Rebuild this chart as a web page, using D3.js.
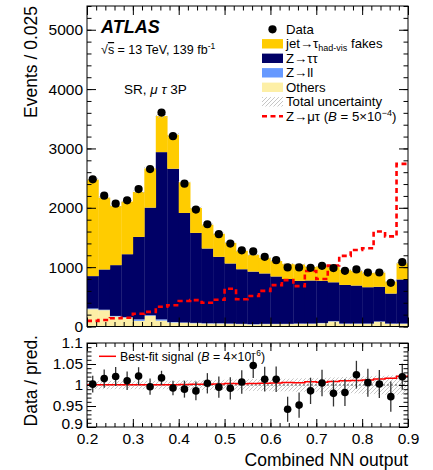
<!DOCTYPE html>
<html><head><meta charset="utf-8">
<script src="https://cdn.jsdelivr.net/npm/d3@7/dist/d3.min.js"></script>
<style>
body{margin:0;background:#fff}
text{font-family:"Liberation Sans",Arial,Helvetica,sans-serif;fill:#000}
</style>
</head><body>
<svg id="c" width="433" height="470"></svg>
<script>
// ---- data ----
const binEdges = [0.2,0.225,0.25,0.275,0.3,0.325,0.35,0.375,0.4,0.425,0.45,0.475,0.5,0.525,0.55,0.575,0.6,0.625,0.65,0.675,0.7,0.725,0.75,0.775,0.8,0.825,0.85,0.875,0.9];
const dataCounts = [2480,2205,2070,2126,2316,2652,3605,3207,2406,1970,1723,1555,1398,1284,1265,1174,1118,995,995,989,1022,985,938,961,908,910,736,1084];
const fakes  = [1626,1211,995,887,759,660,607,572,517,421,402,389,347,310,284,264,260,256,275,228,247,260,255,248,241,239,202,270];
const ztt    = [545,678,856,1060,1389,1813,2818,2582,1845,1516,1259,1119,1012,920,885,849,798,755,720,725,710,655,650,640,612,584,505,743];
const zll    = [12,8,8,8,25,10,20,8,6,6,5,5,5,5,5,5,5,5,5,5,5,5,5,5,5,5,5,5];
const others = [292,275,170,150,95,180,100,68,62,55,50,50,45,40,35,40,40,40,45,45,55,85,45,45,45,80,45,45];
const signal = [95,109,140,148,215,247,333,358,429,445,400,450,636,460,515,600,697,781,680,935,800,1028,1190,1290,1318,1600,1518,2740];
const relUnc = [0.010,0.010,0.010,0.010,0.010,0.010,0.010,0.010,0.011,0.011,0.012,0.012,0.013,0.013,0.014,0.014,0.015,0.015,0.016,0.016,0.017,0.018,0.019,0.020,0.021,0.022,0.023,0.023];
const bestFitScale = 4e-6 / 5e-4;
const yTicksMain = [0,1000,2000,3000,4000,5000];
const xTicks = [0.2,0.3,0.4,0.5,0.6,0.7,0.8,0.9];
const ratioTicks = [0.9,0.95,1,1.05,1.1];

const colors = {fakes:"#ffcc00", ztt:"#000066", zll:"#6699ff", others:"#fdefa6"};

// ---- layout ----
const L = 87, R = 408;
const mainTop = 6, mainBot = 326.5;
const ratTop = 343, ratBot = 427;
const svg = d3.select("#c");

const x = d3.scaleLinear().domain([0.2,0.9]).range([L,R]);
const y = d3.scaleLinear().domain([0,5400]).range([mainBot,mainTop]);
const yr = d3.scaleLinear().domain([0.9,1.1]).range([ratBot,ratTop]);

const defs = svg.append("defs");
defs.append("clipPath").attr("id","clipMain").append("rect")
  .attr("x",L).attr("y",mainTop).attr("width",R-L).attr("height",mainBot-mainTop);
defs.append("clipPath").attr("id","clipRat").append("rect")
  .attr("x",L).attr("y",ratTop).attr("width",R-L).attr("height",ratBot-ratTop);
const pat = defs.append("pattern").attr("id","hatch").attr("patternUnits","userSpaceOnUse")
  .attr("width",4).attr("height",4);
pat.append("path").attr("d","M-1,1 l2,-2 M0,4 l4,-4 M3,5 l2,-2")
  .attr("stroke","#b8b8b8").attr("stroke-width",0.8);

const bins = dataCounts.map((d,i)=>({
  i, lo:binEdges[i], hi:binEdges[i+1], data:d,
  fakes:fakes[i], ztt:ztt[i], zll:zll[i], others:others[i], sig:signal[i], unc:relUnc[i]
}));
bins.forEach(b=>{ b.pred = b.fakes+b.ztt+b.zll+b.others; });

// ---- main panel ----
const gMain = svg.append("g").attr("clip-path","url(#clipMain)");
const keys = ["others","zll","ztt","fakes"];
const stack = d3.stack().keys(keys)(bins);
stack.forEach(layer=>{
  gMain.append("g").selectAll("rect").data(layer).join("rect")
    .attr("x",d=>x(d.data.lo)).attr("width",d=>x(d.data.hi)-x(d.data.lo)+0.3)
    .attr("y",d=>y(d[1])).attr("height",d=>y(d[0])-y(d[1]))
    .attr("fill",colors[layer.key]);
});
// uncertainty hatch on total
gMain.append("g").selectAll("rect").data(bins).join("rect")
  .attr("x",d=>x(d.lo)).attr("width",d=>x(d.hi)-x(d.lo))
  .attr("y",d=>y(d.pred*(1+d.unc))).attr("height",d=>y(d.pred*(1-d.unc))-y(d.pred*(1+d.unc)))
  .attr("fill","url(#hatch)");
// signal step line
const sigPts = bins.map(b=>[b.lo,b.sig]).concat([[0.9,signal[signal.length-1]]]);
gMain.append("path").datum(sigPts)
  .attr("d",d3.line().x(d=>x(d[0])).y(d=>y(d[1])).curve(d3.curveStepAfter))
  .attr("fill","none").attr("stroke","#ff0000").attr("stroke-width",2.6)
  .attr("stroke-dasharray","5,3.5");
// data
const cx = d=>x((d.lo+d.hi)/2);
gMain.append("g").selectAll("line").data(bins).join("line")
  .attr("x1",cx).attr("x2",cx)
  .attr("y1",d=>y(d.data+Math.sqrt(d.data))).attr("y2",d=>y(d.data-Math.sqrt(d.data)))
  .attr("stroke","#000").attr("stroke-width",1.2);
gMain.append("g").selectAll("circle").data(bins).join("circle")
  .attr("cx",cx).attr("cy",d=>y(d.data)).attr("r",4.1).attr("fill","#000");

// ---- ratio panel ----
const gRat = svg.append("g").attr("clip-path","url(#clipRat)");
gRat.append("g").selectAll("rect").data(bins).join("rect")
  .attr("x",d=>x(d.lo)).attr("width",d=>x(d.hi)-x(d.lo)+0.3)
  .attr("y",d=>yr(1+d.unc)).attr("height",d=>yr(1-d.unc)-yr(1+d.unc))
  .attr("fill","url(#hatch)");
gRat.append("line").attr("x1",L).attr("x2",R).attr("y1",yr(1)).attr("y2",yr(1))
  .attr("stroke","#555").attr("stroke-width",1).attr("stroke-dasharray","2,2");
const bfPts = bins.map(b=>[b.lo,1+bestFitScale*b.sig/b.pred]);
bfPts.push([0.9,bfPts[bfPts.length-1][1]]);
gRat.append("path").datum(bfPts)
  .attr("d",d3.line().x(d=>x(d[0])).y(d=>yr(d[1])).curve(d3.curveStepAfter))
  .attr("fill","none").attr("stroke","#ff0000").attr("stroke-width",1.5);
gRat.append("g").selectAll("line").data(bins).join("line")
  .attr("x1",cx).attr("x2",cx)
  .attr("y1",d=>yr((d.data+Math.sqrt(d.data))/d.pred)).attr("y2",d=>yr((d.data-Math.sqrt(d.data))/d.pred))
  .attr("stroke","#333").attr("stroke-width",1.3);
gRat.append("g").selectAll("circle").data(bins).join("circle")
  .attr("cx",cx).attr("cy",d=>yr(d.data/d.pred)).attr("r",3.8).attr("fill","#000");

// ---- axes ----
function ax(g, gen){ g.call(gen); g.select(".domain").remove(); g.selectAll("line").attr("stroke","#000"); g.selectAll("text").attr("font-size",15.5).attr("font-family",'"Liberation Sans",Arial,sans-serif'); }
const xMinor = d3.range(20,91,2).map(v=>v/100);
// main panel
ax(svg.append("g").attr("transform",`translate(${L},0)`), d3.axisLeft(y).tickValues(yTicksMain).tickSize(-9).tickPadding(4).tickFormat(d3.format("d")));
ax(svg.append("g").attr("transform",`translate(${L},0)`), d3.axisLeft(y).tickValues(d3.range(0,5401,200)).tickSize(-4.5).tickFormat(""));
ax(svg.append("g").attr("transform",`translate(${R},0)`), d3.axisRight(y).tickValues(yTicksMain).tickSize(-9).tickFormat(""));
ax(svg.append("g").attr("transform",`translate(${R},0)`), d3.axisRight(y).tickValues(d3.range(0,5401,200)).tickSize(-4.5).tickFormat(""));
ax(svg.append("g").attr("transform",`translate(0,${mainBot})`), d3.axisBottom(x).tickValues(xTicks).tickSize(-9).tickFormat(""));
ax(svg.append("g").attr("transform",`translate(0,${mainBot})`), d3.axisBottom(x).tickValues(xMinor).tickSize(-4.5).tickFormat(""));
ax(svg.append("g").attr("transform",`translate(0,${mainTop})`), d3.axisTop(x).tickValues(xTicks).tickSize(-9).tickFormat(""));
ax(svg.append("g").attr("transform",`translate(0,${mainTop})`), d3.axisTop(x).tickValues(xMinor).tickSize(-4.5).tickFormat(""));
svg.append("rect").attr("x",L).attr("y",mainTop).attr("width",R-L).attr("height",mainBot-mainTop)
  .attr("fill","none").attr("stroke","#000").attr("stroke-width",1);
// ratio panel
const rMinor = d3.range(90,111,1).map(v=>v/100);
const rFmt = d=>String(+d.toFixed(2));
const yrAxis = svg.append("g").attr("transform",`translate(${L},0)`);
ax(yrAxis, d3.axisLeft(yr).tickValues(ratioTicks).tickSize(-9).tickPadding(4).tickFormat(rFmt));
yrAxis.selectAll(".tick").filter(d=>d===0.9).select("text").attr("dy","0.1em");
ax(svg.append("g").attr("transform",`translate(${L},0)`), d3.axisLeft(yr).tickValues(rMinor).tickSize(-4.5).tickFormat(""));
ax(svg.append("g").attr("transform",`translate(${R},0)`), d3.axisRight(yr).tickValues(ratioTicks).tickSize(-9).tickFormat(""));
ax(svg.append("g").attr("transform",`translate(${R},0)`), d3.axisRight(yr).tickValues(rMinor).tickSize(-4.5).tickFormat(""));
ax(svg.append("g").attr("transform",`translate(0,${ratBot})`), d3.axisBottom(x).tickValues(xTicks).tickSize(-8).tickPadding(5.5).tickFormat(d3.format(".1f")));
ax(svg.append("g").attr("transform",`translate(0,${ratBot})`), d3.axisBottom(x).tickValues(xMinor).tickSize(-4).tickFormat(""));
ax(svg.append("g").attr("transform",`translate(0,${ratTop})`), d3.axisTop(x).tickValues(xTicks).tickSize(-8).tickFormat(""));
ax(svg.append("g").attr("transform",`translate(0,${ratTop})`), d3.axisTop(x).tickValues(xMinor).tickSize(-4).tickFormat(""));
svg.append("rect").attr("x",L).attr("y",ratTop).attr("width",R-L).attr("height",ratBot-ratTop)
  .attr("fill","none").attr("stroke","#000").attr("stroke-width",1);

// ---- titles ----
svg.append("text").attr("transform","translate(37,6) rotate(-90)").attr("text-anchor","end")
  .attr("font-size",17.5).text("Events / 0.025");
svg.append("text").attr("transform","translate(37,335) rotate(-90)").attr("text-anchor","end")
  .attr("font-size",17.5).text("Data / pred.");
svg.append("text").attr("x",R).attr("y",466).attr("text-anchor","end")
  .attr("font-size",17.5).text("Combined NN output");

// ATLAS labels
svg.append("text").attr("x",101).attr("y",33).attr("font-size",18).attr("font-weight","bold")
  .attr("font-style","italic").text("ATLAS");
const sq = svg.append("text").attr("x",101).attr("y",54).attr("font-size",12.5);
sq.append("tspan").text("√");
sq.append("tspan").attr("text-decoration","overline").text("s");
sq.append("tspan").text(" = 13 TeV, 139 fb");
sq.append("tspan").attr("dy",-5).attr("font-size",8.5).text("-1");
const sr = svg.append("text").attr("x",124).attr("y",94).attr("font-size",13.5);
sr.append("tspan").text("SR, ");
sr.append("tspan").attr("font-style","italic").text("μ τ");
sr.append("tspan").text(" 3P");

// ---- legend ----
const lgX = 262, lgW = 21, lgTx = 286;
const rows = [29.3,43.8,58.3,72.8,87.3,101.8,116.3];
const lg = svg.append("g");
lg.append("circle").attr("cx",lgX+lgW/2).attr("cy",rows[0]).attr("r",4.1).attr("fill","#000");
[["fakes",1],["ztt",2],["zll",3],["others",4]].forEach(([k,r])=>{
  lg.append("rect").attr("x",lgX).attr("y",rows[r]-4.7).attr("width",lgW).attr("height",9.4).attr("fill",colors[k]);
});
lg.append("rect").attr("x",lgX).attr("y",rows[5]-4.7).attr("width",lgW).attr("height",9.4).attr("fill","url(#hatch)");
lg.append("line").attr("x1",lgX).attr("x2",lgX+lgW).attr("y1",rows[6]).attr("y2",rows[6])
  .attr("stroke","#ff0000").attr("stroke-width",2.6).attr("stroke-dasharray","5,3.5");
const fs = 13.2;
const lt = (r)=>lg.append("text").attr("x",lgTx).attr("y",rows[r]+4.6).attr("font-size",fs);
lt(0).text("Data");
const t1 = lt(1); t1.append("tspan").text("jet→τ"); t1.append("tspan").attr("dy",3).attr("font-size",9).text("had-vis");
t1.append("tspan").attr("dy",-3).text(" fakes");
lt(2).text("Z→ττ");
lt(3).text("Z→ll");
lt(4).text("Others");
lt(5).text("Total uncertainty");
const t6 = lt(6); t6.append("tspan").text("Z→μτ (");
t6.append("tspan").attr("font-style","italic").text("B");
t6.append("tspan").text(" = 5×10");
t6.append("tspan").attr("dy",-5).attr("font-size",9).text("−4");
t6.append("tspan").attr("dy",5).text(")");

// ratio legend
svg.append("line").attr("x1",99).attr("x2",116).attr("y1",356.3).attr("y2",356.3)
  .attr("stroke","#ff0000").attr("stroke-width",1.5);
const t7 = svg.append("text").attr("x",120).attr("y",360.5).attr("font-size",12.3);
t7.append("tspan").text("Best-fit signal (");
t7.append("tspan").attr("font-style","italic").text("B");
t7.append("tspan").text(" = 4×10");
t7.append("tspan").attr("dy",-5).attr("font-size",8.5).text("−6");
t7.append("tspan").attr("dy",5).text(")");
</script>
</body></html>
